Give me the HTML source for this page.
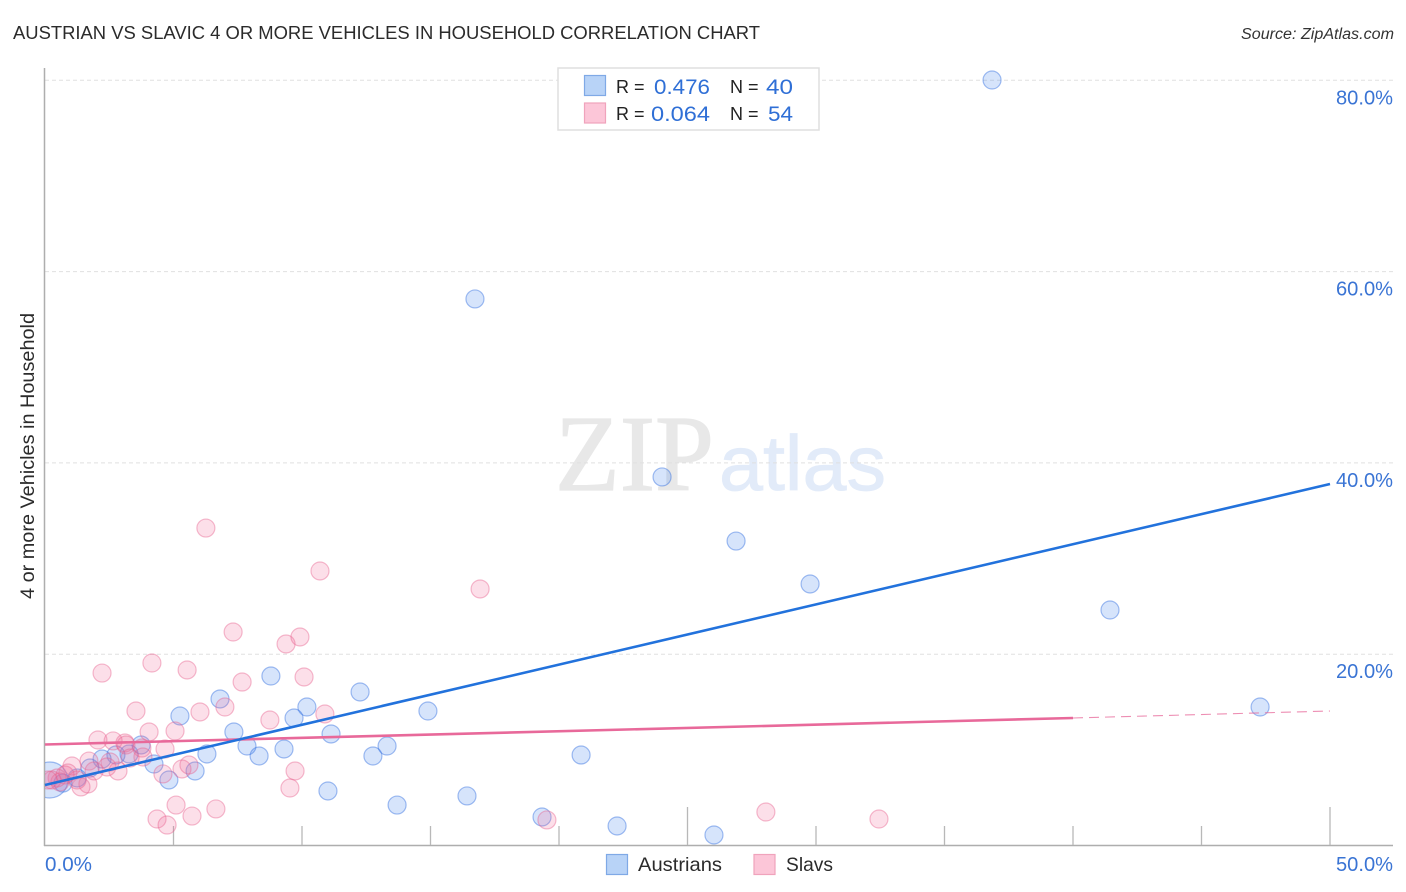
<!DOCTYPE html>
<html lang="en">
<head>
<meta charset="utf-8">
<title>Austrian vs Slavic 4 or more Vehicles in Household Correlation Chart</title>
<style>
html,body{margin:0;padding:0;background:#fff;}
svg{display:block;font-family:"Liberation Sans",sans-serif;}
</style>
</head>
<body>
<svg id="chart" width="1406" height="892" viewBox="0 0 1406 892" xmlns="http://www.w3.org/2000/svg">
  <defs><clipPath id="plot-clip"><rect x="45" y="60" width="1348" height="785.5"/></clipPath></defs>
  <text x="13" y="39" font-size="18.5" fill="#2b2b2b" textLength="747" lengthAdjust="spacingAndGlyphs">AUSTRIAN VS SLAVIC 4 OR MORE VEHICLES IN HOUSEHOLD CORRELATION CHART</text>
  <text x="1394" y="39" font-size="15.5" font-style="italic" fill="#333" text-anchor="end" textLength="153" lengthAdjust="spacingAndGlyphs">Source: ZipAtlas.com</text>
  <g>
    <text x="555" y="490" font-family="'Liberation Serif',serif" font-size="108" fill="#e8e8e8" stroke="#e8e8e8" stroke-width="1.2" textLength="159" lengthAdjust="spacingAndGlyphs">ZIP</text>
    <text x="719" y="490" font-size="78" fill="#e2ebf9" stroke="#e2ebf9" stroke-width="0.8" textLength="167" lengthAdjust="spacingAndGlyphs">atlas</text>
  </g>
  <g id="grid"></g>
  <g id="axes"></g>
  <g id="points" clip-path="url(#plot-clip)"></g>
  <g id="lines"></g>
  <g id="labels"></g>
  <text transform="translate(34 456) rotate(-90)" font-size="19" fill="#2b2b2b" text-anchor="middle" textLength="286" lengthAdjust="spacingAndGlyphs">4 or more Vehicles in Household</text>

  <g>
    <rect x="558" y="68" width="261" height="62" fill="#fff" stroke="#dfdfdf" stroke-width="1.5"/>
    <rect x="584.5" y="75.5" width="21" height="20" fill="#b8d3f7" stroke="#7fa9e6" stroke-width="1.2"/>
    <rect x="584.5" y="103" width="21" height="20" fill="#fcc6d8" stroke="#f0a3bc" stroke-width="1.2"/>
    <text x="616" y="93" font-size="18" fill="#222">R =</text>
    <text x="654" y="94" font-size="21" fill="#2f6fd6" textLength="56" lengthAdjust="spacingAndGlyphs">0.476</text>
    <text x="730" y="93" font-size="18" fill="#222">N =</text>
    <text x="766" y="94" font-size="21" fill="#2f6fd6" textLength="27" lengthAdjust="spacingAndGlyphs">40</text>
    <text x="616" y="120" font-size="18" fill="#222">R =</text>
    <text x="651" y="121" font-size="21" fill="#2f6fd6" textLength="59" lengthAdjust="spacingAndGlyphs">0.064</text>
    <text x="730" y="120" font-size="18" fill="#222">N =</text>
    <text x="768" y="121" font-size="21" fill="#2f6fd6" textLength="25" lengthAdjust="spacingAndGlyphs">54</text>
  </g>

  <g>
    <rect x="606.5" y="854.5" width="21" height="20" fill="#b8d3f7" stroke="#7fa9e6" stroke-width="1.2"/>
    <text x="638" y="871" font-size="19.5" fill="#2b2b2b" textLength="84" lengthAdjust="spacingAndGlyphs">Austrians</text>
    <rect x="754" y="854.5" width="21" height="20" fill="#fcc6d8" stroke="#f0a3bc" stroke-width="1.2"/>
    <text x="786" y="871" font-size="19.5" fill="#2b2b2b" textLength="47" lengthAdjust="spacingAndGlyphs">Slavs</text>
  </g>
</svg>
<script>
const austrianX = [36.85,16.73,24.01,26.89,29.77,41.44,47.28,12.26,14.90,13.31,12.76,20.86,13.70,16.42,19.34,22.26,26.03,8.79,6.81,5.25,10.19,9.69,11.13,7.35,7.86,8.33,9.30,6.30,4.24,4.82,5.84,11.01,3.74,3.27,2.76,2.22,1.75,1.25,0.70,0.19];
const austrianY = [80.03,57.14,38.53,31.83,27.34,24.62,14.48,16.05,14.06,10.40,9.36,9.46,4.23,5.18,2.98,2.04,1.10,17.72,15.32,13.54,14.48,13.33,11.66,11.87,10.40,9.36,10.09,9.57,8.52,6.85,7.79,5.70,10.51,9.57,9.46,9.04,8.10,7.06,6.53,6.85];
const austrianWeight = [1,1,1,1,1,1,1,1,1,1,1,1,1,1,1,1,1,1,1,1,1,1,1,1,1,1,1,1,1,1,1,1,1,1,1,1,1,1,1,4];
const slavX = [6.26,10.70,16.93,19.53,28.05,32.45,2.22,4.16,5.53,7.67,10.08,9.38,9.92,7.32,3.54,6.03,7.00,5.06,4.05,8.75,10.89,2.06,2.65,3.11,3.15,4.67,3.77,3.81,3.31,2.53,2.84,2.41,1.71,1.91,1.05,0.89,1.67,1.40,1.25,0.47,0.27,0.58,4.59,5.33,5.60,9.73,9.53,5.10,6.65,5.72,4.36,4.75,0.12,0.78];
const slavY = [33.19,28.70,26.82,2.67,3.50,2.77,18.03,19.08,18.35,17.09,17.62,21.07,21.80,22.32,14.06,13.96,14.48,11.97,11.87,13.12,13.75,11.03,10.93,10.72,10.51,10.09,10.19,9.25,9.15,8.73,7.79,8.21,8.83,7.79,8.31,7.58,6.43,6.12,6.85,7.06,6.85,6.64,7.48,8.00,8.42,7.79,6.01,4.23,3.82,3.08,2.77,2.14,6.85,7.37];
const austrianTrendX = [0,50];
const austrianTrendY = [6.33,37.79];
const slavTrendX = [0,40];
const slavTrendY = [10.56,13.33];
const slavForecastX = [40,50];
const slavForecastY = [13.33,14.06];
const yTicks = [20,40,60,80];
const yTickLabels = ["20.0%","40.0%","60.0%","80.0%"];
const xTicks = [5,10,15,20,25,30,35,40,45,50];
const xMajorTicks = [25,50];
const xEndTicks = [0,50];
const xEndLabels = ["0.0%","50.0%"];

const NS = "http://www.w3.org/2000/svg";
function xScale(v){ return 45 + v * 25.7; }
function yScale(v){ return 845.5 - v * 9.565; }
function make(parent, tag, attrs){
  const el = document.createElementNS(NS, tag);
  for (const k in attrs) el.setAttribute(k, attrs[k]);
  parent.appendChild(el);
  return el;
}
const grid = document.getElementById('grid');
const axes = document.getElementById('axes');
const pts = document.getElementById('points');
const lines = document.getElementById('lines');
const labels = document.getElementById('labels');

yTicks.forEach(function(t){
  const el = make(grid, 'line', {x1:45, x2:1393, y1:yScale(t), y2:yScale(t), stroke:'#e0e0e0', 'stroke-width':1, 'stroke-dasharray':'4 3'});
  
  
});

const yAxis = make(axes, 'line', {x1:44.5, x2:44.5, y1:68, y2:846, stroke:'#aeaeae', 'stroke-width':1.5});


const xAxis = make(axes, 'line', {x1:44, x2:1393, y1:845.5, y2:845.5, stroke:'#aeaeae', 'stroke-width':1.5});


xTicks.forEach(function(t){
  const top = xMajorTicks.includes(t) ? 807 : 826;
  const el = make(axes, 'line', {x1:xScale(t), x2:xScale(t), y1:top, y2:845, stroke:'#b8b8b8', 'stroke-width':1.3});
  
  
});

austrianX.forEach(function(x, i){
  const el = make(pts, 'circle', {cx:xScale(x), cy:yScale(austrianY[i]), r:9 * Math.sqrt(austrianWeight[i]), fill:'rgba(70,130,235,0.22)', stroke:'rgba(50,110,225,0.45)', 'stroke-width':1.2});
  
  
});
slavX.forEach(function(x, i){
  const el = make(pts, 'circle', {cx:xScale(x), cy:yScale(slavY[i]), r:9, fill:'rgba(240,110,155,0.22)', stroke:'rgba(230,95,140,0.42)', 'stroke-width':1.2});
  
  
});

const slavLine = make(lines, 'line', {x1:xScale(slavTrendX[0]), y1:yScale(slavTrendY[0]), x2:xScale(slavTrendX[1]), y2:yScale(slavTrendY[1]), stroke:'#e8699a', 'stroke-width':2.6});


const slavDash = make(lines, 'line', {x1:xScale(slavForecastX[0]), y1:yScale(slavForecastY[0]), x2:xScale(slavForecastX[1]), y2:yScale(slavForecastY[1]), stroke:'#e8699a', 'stroke-width':1.1, 'stroke-dasharray':'10 6', opacity:0.75});


const austrianLine = make(lines, 'line', {x1:xScale(austrianTrendX[0]), y1:yScale(austrianTrendY[0]), x2:xScale(austrianTrendX[1]), y2:yScale(austrianTrendY[1]), stroke:'#2272dc', 'stroke-width':2.6});



yTicks.forEach(function(t, i){
  const el = make(labels, 'text', {x:1393, y:yScale(t) + 24, 'font-size':20, fill:'#3a74d4', 'text-anchor':'end', textLength:57, lengthAdjust:'spacingAndGlyphs'});
  
  
  el.textContent = yTickLabels[i];
});
xEndTicks.forEach(function(t, i){
  const attrs = i === 0 ? {x:xScale(t), y:871, 'font-size':20, fill:'#3a74d4', textLength:47, lengthAdjust:'spacingAndGlyphs'} : {x:1393, y:871, 'font-size':20, fill:'#3a74d4', 'text-anchor':'end', textLength:57, lengthAdjust:'spacingAndGlyphs'};
  const el = make(labels, 'text', attrs);
  
  
  el.textContent = xEndLabels[i];
});
</script>
</body>
</html>
